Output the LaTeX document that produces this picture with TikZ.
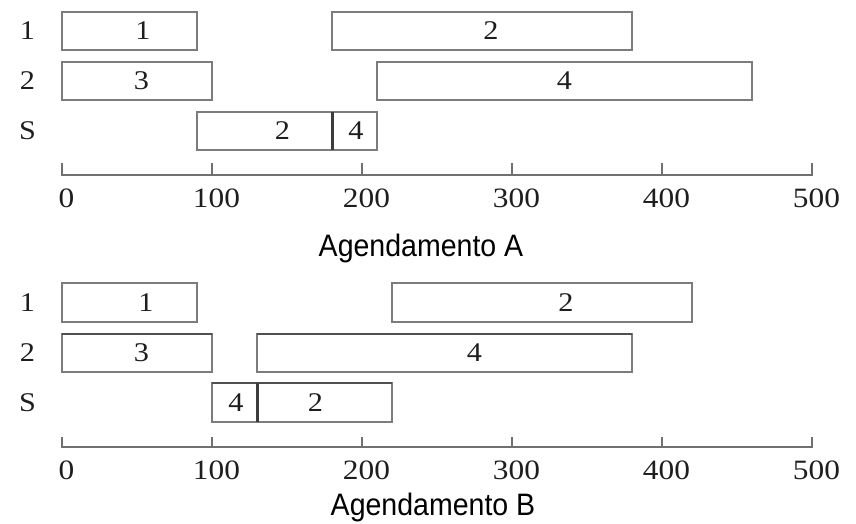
\documentclass[tikz,border=0pt]{standalone}
\usepackage{fontspec}
\setmainfont{Liberation Serif}
\newfontfamily\numfont[FakeStretch=1.12]{Liberation Serif}
\newfontfamily\titlefont[FakeStretch=0.92]{Liberation Sans}
\definecolor{boxgray}{HTML}{7C7C7C}
\definecolor{topgray}{HTML}{505050}
\definecolor{divgray}{HTML}{3C3C3C}
\definecolor{axgray}{HTML}{707070}
\definecolor{txt}{HTML}{1E1E1E}
\tikzset{
  job/.style={draw=boxgray, line width=1.4pt, fill=white},
  heavytop/.style={draw=topgray, line width=2.6pt},
  divider/.style={draw=divgray, line width=3pt},
  lbl/.style={font=\numfont\fontsize{27}{27}\selectfont, text=txt, inner sep=0pt},
  ticklbl/.style={font=\numfont\fontsize{28}{28}\selectfont, text=txt, inner sep=0pt},
  ttl/.style={font=\titlefont\fontsize{31}{31}\selectfont, text=black, inner sep=0pt},
  axisline/.style={draw=axgray, line width=1.5pt},
}
\begin{document}
\begin{tikzpicture}[x=1pt, y=-1pt]
\useasboundingbox (0,0) rectangle (856,523);
% time axis: 1 unit = 1.5pt, origin at x = 62pt
\begin{scope}[xshift=62pt, x=1.5pt]

% ---------------- Schedule A ----------------
\node[lbl] (ra1) at (-23,31) {1};
\node[lbl] (ra2) at (-23,81) {2};
\node[lbl] (ras) at (-23,131) {S};

\draw[job] (0,12) rectangle (90,50);
\node[lbl] (a11) at (54,31) {1};
\draw[job] (180,12) rectangle (380,50);
\node[lbl] (a12) at (286,31) {2};

\draw[job] (0,62) rectangle (100,100);
\node[lbl] (a23) at (53,81) {3};
\draw[job] (210,62) rectangle (460,100);
\node[lbl] (a24) at (335,81) {4};

\draw[job] (90,112) rectangle (210,150);
\draw[divider] (180,112) -- (180,150);
\node[lbl] (as2) at (147,131) {2};
\node[lbl] (as4) at (196,131) {4};

\draw[axisline] (0,163) -- (0,175) -- (500,175) -- (500,163);
\foreach \t in {100,200,300,400}
  \draw[axisline] (\t,163) -- (\t,175);
\foreach \t in {0,100,200,300,400,500}
  \node[ticklbl] (ta\t) at (\t+3,198) {\t};

% ---------------- Schedule B ----------------
\node[lbl] (rb1) at (-23,302.5) {1};
\node[lbl] (rb2) at (-23,353) {2};
\node[lbl] (rbs) at (-23,402.5) {S};

\draw[job] (0,283) rectangle (90,322);
\node[lbl] (b11) at (56,302.5) {1};
\draw[job] (220,283) rectangle (420,322);
\node[lbl] (b12) at (336,302.5) {2};

\draw[job] (0,334) rectangle (100,372);
\draw[heavytop] (0,334) -- (100,334);
\node[lbl] (b23) at (53,353) {3};
\draw[job] (130,334) rectangle (380,372);
\draw[heavytop] (130,334) -- (380,334);
\node[lbl] (b24) at (275,353) {4};

\draw[job] (100,383) rectangle (220,422);
\draw[heavytop] (100,383) -- (220,383);
\draw[divider] (130,383) -- (130,422);
\node[lbl] (bs4) at (116,402.5) {4};
\node[lbl] (bs2) at (169,402.5) {2};

\draw[axisline] (0,437) -- (0,447) -- (500,447) -- (500,437);
\foreach \t in {100,200,300,400}
  \draw[axisline] (\t,437) -- (\t,447);
\foreach \t in {0,100,200,300,400,500}
  \node[ticklbl] (tb\t) at (\t+3,470) {\t};
\end{scope}

\node[ttl] (titleA) at (421,248) {Agendamento A};
\node[ttl] (titleB) at (433,507) {Agendamento B};
\end{tikzpicture}
\end{document}
